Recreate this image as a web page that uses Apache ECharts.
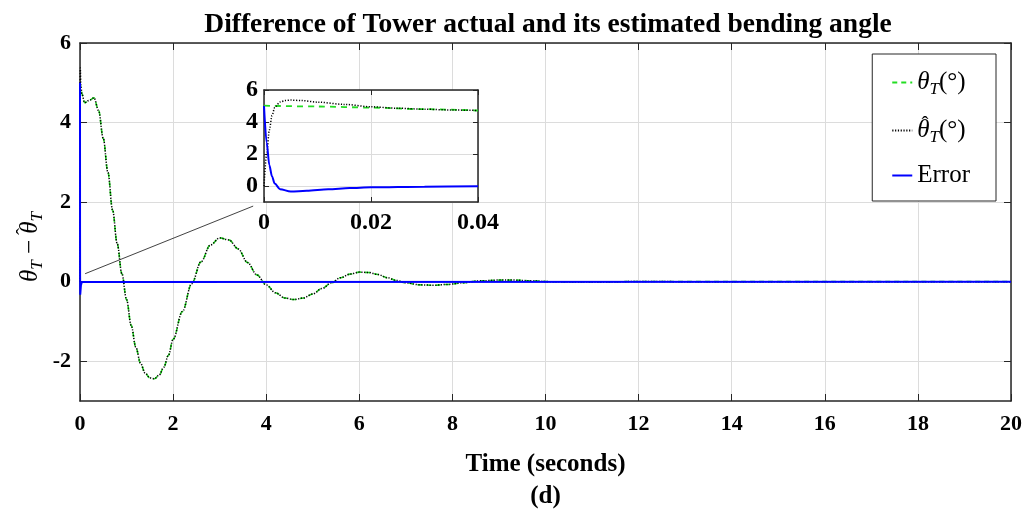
<!DOCTYPE html>
<html><head><meta charset="utf-8">
<script src="https://cdn.jsdelivr.net/npm/echarts@6/dist/echarts.min.js"></script>
<style>html,body{margin:0;padding:0;background:#fff}#c{width:1023px;height:509px}</style>
</head><body><div id="c"></div>
<script>
// ---- data ----
const mainTime = [0, 0.02, 0.04, 0.1, 0.2, 0.3, 0.4, 0.5, 0.6, 0.7, 0.8, 0.9, 1.0, 1.1, 1.2, 1.3, 1.4, 1.5, 1.6, 1.7, 1.8, 1.9, 2.0, 2.2, 2.4, 2.6, 2.8, 3.0, 3.2, 3.4, 3.6, 3.8, 4.0, 4.2, 4.4, 4.6, 4.8, 5.0, 5.2, 5.4, 5.6, 5.8, 6.0, 6.2, 6.4, 6.6, 6.8, 7.0, 7.3, 7.6, 7.9, 8.2, 8.6, 9.0, 9.3, 9.7, 10.1, 10.6, 11.2, 12, 13, 20];
const thetaMain = [5.0, 4.88, 4.72, 4.5, 4.56, 4.62, 4.3, 3.6, 2.75, 1.8, 0.95, 0.2, -0.45, -1.1, -1.65, -2.05, -2.3, -2.42, -2.44, -2.35, -2.15, -1.85, -1.45, -0.75, -0.05, 0.5, 0.92, 1.1, 1.05, 0.82, 0.48, 0.17, -0.08, -0.28, -0.41, -0.45, -0.41, -0.31, -0.17, -0.03, 0.1, 0.19, 0.24, 0.23, 0.18, 0.1, 0.03, -0.03, -0.08, -0.09, -0.07, -0.03, 0.02, 0.04, 0.04, 0.02, 0.0, -0.01, -0.01, 0.005, 0.0, 0.0];
const hatHeadTime = [0, 0.002, 0.005, 0.02, 0.04];
const hatHeadValues = [0, 4.9, 5.37, 4.93, 4.72];
const errorMainTime = [0, 0.0005, 0.001, 0.002, 0.005, 0.02, 0.04, 20];
const errorMainValues = [5.0, 2.7, 1.3, 0.15, -0.33, -0.09, -0.01, 0];

const insetThetaTime = [0, 0.01, 0.02, 0.03, 0.04];
const insetThetaValues = [5.02, 4.97, 4.9, 4.8, 4.72];
const insetHatTime = [0, 0.0005, 0.001, 0.0015, 0.002, 0.003, 0.004, 0.005, 0.007, 0.01, 0.015, 0.02, 0.025, 0.03, 0.035, 0.04];
const insetHatValues = [0, 2.0, 3.5, 4.4, 4.9, 5.25, 5.34, 5.37, 5.34, 5.24, 5.1, 4.95, 4.86, 4.8, 4.75, 4.72];
const insetErrTime = [0, 0.0005, 0.001, 0.0015, 0.002, 0.003, 0.005, 0.008, 0.012, 0.016, 0.02, 0.03, 0.04];
const insetErrValues = [5.0, 2.7, 1.3, 0.6, 0.15, -0.2, -0.35, -0.3, -0.21, -0.13, -0.08, -0.04, -0.01];

const yTicksMain = [-2, 0, 2, 4, 6];
const yTicksInset = [0, 2, 4, 6];
const arrowFrom = [0.11, 0.2];
const arrowTo = [3.72, 1.9];

const titleText = 'Difference of Tower actual and its estimated bending angle';
const xName = 'Time (seconds)\n(d)';

// ---- build ----
const zip = (t, v) => t.map((x, i) => [x, v[i]]);
const thetaHatMain = zip(hatHeadTime, hatHeadValues).concat(zip(mainTime, thetaMain).filter(p => p[0] >= 0.1));

const SERIF = "'Liberation Serif', 'Times New Roman', serif";
const AX = '#262626';
const GRID = '#dcdcdc';
const GREEN = '#22dd22';
const BLUE = '#0000ff';

const mathRich = (fs) => ({
  m: {fontFamily: SERIF, fontStyle: 'italic', fontSize: fs, lineHeight: fs + 6, color: '#000'},
  a: {fontFamily: SERIF, fontSize: Math.round(fs * 0.85), lineHeight: Math.round(fs * 0.85), width: 0.01,
      verticalAlign: 'top', color: '#000'},
  s: {fontFamily: SERIF, fontStyle: 'italic', fontSize: Math.round(fs * 0.68), padding: [Math.round(fs * 0.42), 0, 0, 0], verticalAlign: 'bottom', color: '#000'},
  r: {fontFamily: SERIF, fontSize: fs, lineHeight: fs + 6, color: '#000'}
});
const HAT = '{a|\u2009\u02C6}';

const inTick = {show: true, inside: true, length: 7, lineStyle: {color: AX, width: 1}};
const axLine = {show: true, onZero: false, lineStyle: {color: AX, width: 1.5}};

const chart = echarts.init(document.getElementById('c'));
chart.setOption({
  animation: false,
  backgroundColor: '#fff',
  title: {text: titleText, left: 543, top: 6, textAlign: 'center',
    textStyle: {fontFamily: SERIF, fontWeight: 'bold', fontSize: 27.5, color: '#000'}},
  grid: [
    {left: 80, top: 43, right: 12, bottom: 108, outerBoundsMode: 'none', containLabel: false},
    {left: 264, top: 90, width: 214, height: 112, outerBoundsMode: 'none', containLabel: false,
      show: true, backgroundColor: '#fff', borderWidth: 0, z: 1}
  ],
  legend: {
    orient: 'vertical', right: 27, top: 54, selectedMode: false,
    data: ['thetaT', 'thetaHat', 'Error'],
    itemWidth: 20, itemHeight: 10, itemGap: 17, padding: [16, 26, 13, 19],
    itemStyle: {opacity: 0},
    backgroundColor: '#fff', borderColor: AX, borderWidth: 1, borderRadius: 0,
    textStyle: {fontFamily: SERIF, fontSize: 25, color: '#000', rich: mathRich(25)},
    formatter: function (n) {
      if (n === 'thetaT') return '{m|θ}{s|T}{r|(°)}';
      if (n === 'thetaHat') return HAT + '{m|θ}{s|T}{r|(°)}';
      return '{r|Error}';
    }
  },
  xAxis: [
    {type: 'value', gridIndex: 0, min: 0, max: 20, interval: 2, position: 'bottom',
      axisLine: axLine, axisTick: inTick,
      axisLabel: {fontFamily: SERIF, fontWeight: 'bold', fontSize: 22, color: '#000', margin: 12},
      splitLine: {show: true, lineStyle: {color: GRID, width: 1}},
      name: xName, nameLocation: 'middle', nameGap: 48,
      nameTextStyle: {fontFamily: SERIF, fontWeight: 'bold', fontSize: 25, lineHeight: 32, color: '#000'}},
    {type: 'value', gridIndex: 0, min: 0, max: 20, interval: 2, position: 'top',
      axisLine: axLine, axisTick: inTick, axisLabel: {show: false}, splitLine: {show: false}},
    {type: 'value', gridIndex: 1, min: 0, max: 0.04, interval: 0.02, position: 'bottom', z: 1,
      axisLine: axLine, axisTick: {show: true, inside: true, length: 5, lineStyle: {color: AX}},
      axisLabel: {fontFamily: SERIF, fontWeight: 'bold', fontSize: 24, color: '#000', margin: 9},
      splitLine: {show: true, lineStyle: {color: GRID, width: 1}}},
    {type: 'value', gridIndex: 1, min: 0, max: 0.04, interval: 0.02, position: 'top', z: 1,
      axisLine: axLine, axisTick: {show: true, inside: true, length: 5, lineStyle: {color: AX}},
      axisLabel: {show: false}, splitLine: {show: false}}
  ],
  yAxis: [
    {type: 'value', gridIndex: 0, min: -3, max: 6, position: 'left',
      axisLine: axLine,
      axisTick: Object.assign({customValues: yTicksMain}, inTick),
      axisLabel: {customValues: yTicksMain, fontFamily: SERIF, fontWeight: 'bold', fontSize: 22, color: '#000', margin: 9},
      splitLine: {show: true, lineStyle: {color: GRID, width: 1}},
      name: '{m|θ}{s|T}{r| − }' + HAT + '{m|θ}{s|T}', nameLocation: 'middle', nameGap: 34, nameRotate: 90,
      nameMoveOverlap: false,
      nameTextStyle: {rich: mathRich(25), padding: [0, 50, 0, 0]}},
    {type: 'value', gridIndex: 0, min: -3, max: 6, position: 'right',
      axisLine: axLine, axisTick: Object.assign({customValues: yTicksMain}, inTick),
      axisLabel: {show: false}, splitLine: {show: false}},
    {type: 'value', gridIndex: 1, min: -1, max: 6, position: 'left', z: 1,
      axisLine: axLine,
      axisTick: {show: true, inside: true, length: 5, customValues: yTicksInset, lineStyle: {color: AX}},
      axisLabel: {customValues: yTicksInset, fontFamily: SERIF, fontWeight: 'bold', fontSize: 24, color: '#000', margin: 6},
      splitLine: {show: true, lineStyle: {color: GRID, width: 1}}},
    {type: 'value', gridIndex: 1, min: -1, max: 6, position: 'right', z: 1,
      axisLine: axLine,
      axisTick: {show: true, inside: true, length: 5, customValues: yTicksInset, lineStyle: {color: AX}},
      axisLabel: {show: false}, splitLine: {show: false}}
  ],
  series: [
    {name: 'thetaT', type: 'line', xAxisIndex: 0, yAxisIndex: 0, data: zip(mainTime, thetaMain),
      symbol: 'none', smooth: 0.35, smoothMonotone: 'x', z: 2,
      lineStyle: {color: GREEN, width: 1.6, type: [5, 4]}, itemStyle: {color: GREEN}},
    {name: 'thetaHat', type: 'line', xAxisIndex: 0, yAxisIndex: 0, data: thetaHatMain,
      symbol: 'none', smooth: 0.35, smoothMonotone: 'x', z: 3,
      lineStyle: {color: '#000', width: 1.5, type: [1.2, 1.6]}, itemStyle: {color: '#000'}},
    {name: 'Error', type: 'line', xAxisIndex: 0, yAxisIndex: 0, data: zip(errorMainTime, errorMainValues),
      symbol: 'none', z: 4,
      lineStyle: {color: BLUE, width: 2}, itemStyle: {color: BLUE},
      markLine: {silent: true, symbol: ['none', 'arrow'], symbolSize: [0, 10], label: {show: false},
        lineStyle: {color: '#111', width: 0.8, type: 'solid'},
        data: [[{coord: arrowFrom}, {coord: arrowTo}]]}},
    {name: 'thetaT', type: 'line', xAxisIndex: 2, yAxisIndex: 2, data: zip(insetThetaTime, insetThetaValues),
      symbol: 'none', smooth: 0.3, smoothMonotone: 'x', z: 5,
      lineStyle: {color: GREEN, width: 1.8, type: [6, 5]}, itemStyle: {color: GREEN}},
    {name: 'thetaHat', type: 'line', xAxisIndex: 2, yAxisIndex: 2, data: zip(insetHatTime, insetHatValues),
      symbol: 'none', smooth: 0.3, smoothMonotone: 'x', z: 6,
      lineStyle: {color: '#000', width: 1.5, type: [1.2, 1.6]}, itemStyle: {color: '#000'}},
    {name: 'Error', type: 'line', xAxisIndex: 2, yAxisIndex: 2, data: zip(insetErrTime, insetErrValues),
      symbol: 'none', smooth: 0.3, smoothMonotone: 'x', z: 7,
      lineStyle: {color: BLUE, width: 2}, itemStyle: {color: BLUE}}
  ]
});
</script></body></html>
